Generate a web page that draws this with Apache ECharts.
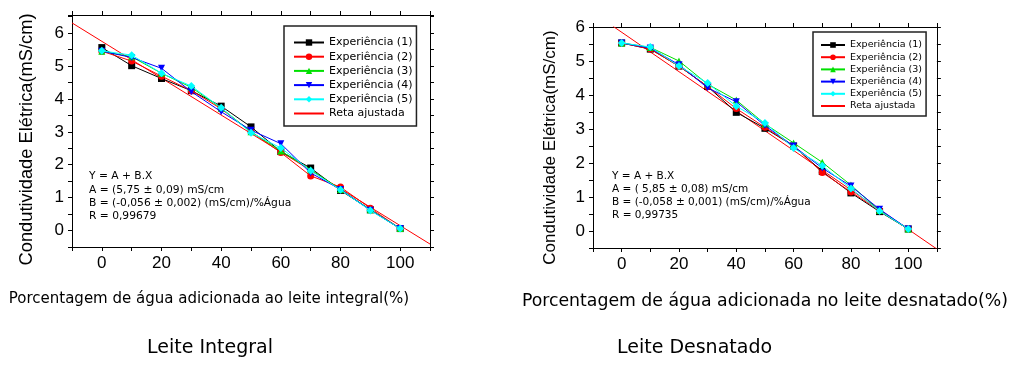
<!DOCTYPE html>
<html>
<head>
<meta charset="utf-8">
<script src="https://cdn.jsdelivr.net/npm/echarts@6/dist/echarts.min.js"></script>
<style>
  html, body { margin: 0; padding: 0; background: #fff; }
  #chart { width: 1011px; height: 372px; }
</style>
</head>
<body>
<div id="chart"></div>
<script>
// ---- data ----
const xPct = [0, 10, 20, 30, 40, 50, 60, 70, 80, 90, 100];
const expNames = ["Experiência (1)", "Experiência (2)", "Experiência (3)", "Experiência (4)", "Experiência (5)"];
const fitName = "Reta ajustada";

// Leite integral
const integral1 = [5.56, 5.01, 4.62, 4.25, 3.78, 3.15, 2.40, 1.90, 1.22, 0.63, 0.06];
const integral2 = [5.45, 5.15, 4.69, 4.25, 3.70, 3.00, 2.37, 1.66, 1.32, 0.68, 0.06];
const integral3 = [5.45, 5.28, 4.78, 4.35, 3.72, 3.00, 2.42, 1.85, 1.25, 0.63, 0.06];
const integral4 = [5.45, 5.26, 4.93, 4.22, 3.61, 3.05, 2.64, 1.75, 1.25, 0.62, 0.06];
const integral5 = [5.46, 5.33, 4.78, 4.39, 3.73, 2.97, 2.51, 1.82, 1.24, 0.61, 0.06];
const integralFit = [[-10, 6.31], [110, -0.41]];

// Leite desnatado
const desnat1 = [5.53, 5.35, 4.85, 4.25, 3.49, 3.02, 2.50, 1.75, 1.12, 0.57, 0.06];
const desnat2 = [5.53, 5.35, 4.85, 4.25, 3.60, 3.05, 2.50, 1.72, 1.15, 0.60, 0.06];
const desnat3 = [5.53, 5.40, 5.00, 4.32, 3.85, 3.15, 2.59, 2.02, 1.35, 0.60, 0.06];
const desnat4 = [5.53, 5.38, 4.89, 4.21, 3.80, 3.10, 2.50, 1.85, 1.32, 0.64, 0.06];
const desnat5 = [5.53, 5.41, 4.85, 4.35, 3.67, 3.18, 2.44, 1.92, 1.25, 0.59, 0.06];
const desnatFit = [[-3, 6.02], [110, -0.53]];

const xTickLabels = [0, 20, 40, 60, 80, 100];
const yTickLabels = [0, 1, 2, 3, 4, 5, 6];

const notesIntegral = ["Y = A + B.X", "A = (5,75 ± 0,09) mS/cm", "B = (-0,056 ± 0,002) (mS/cm)/%Água", "R = 0,99679"];
const notesDesnat = ["Y = A + B.X", "A = ( 5,85 ± 0,08) mS/cm", "B = (-0,058 ± 0,001) (mS/cm)/%Água", "R = 0,99735"];

const colors = ["#000000", "#ff0000", "#00e000", "#0000ff", "#00ffff"];
const symbols = ["rect", "circle", "triangle", "triangle", "diamond"];
const rotations = [0, 0, 0, 180, 0];

const chart = echarts.init(document.getElementById("chart"));

const AX = "#000";
const tickFont = { color: "#000", fontSize: 17, fontFamily: "Liberation Sans" };

function xAxisPair(grid, nameText, nameSize, namePad, gap) {
  const base = {
    gridIndex: grid, type: "value", min: -10, max: 110, interval: 10,
    axisLine: { show: true, onZero: false, lineStyle: { color: AX, width: 1 } },
    axisTick: { show: true, inside: false, length: 4, lineStyle: { color: AX } },
    splitLine: { show: false }
  };
  return [
    Object.assign({}, base, {
      position: "bottom",
      axisLabel: Object.assign({}, tickFont, { margin: 8, formatter: v => xTickLabels.includes(v) ? String(v) : "" }),
      name: nameText, nameLocation: "middle", nameGap: gap,
      nameTextStyle: { color: "#000", fontSize: nameSize, fontFamily: "DejaVu Sans", padding: namePad }
    }),
    Object.assign({}, base, { position: "top", axisLabel: { show: false } })
  ];
}

function yAxisPair(grid, max, gap, size, pad) {
  const base = {
    gridIndex: grid, type: "value", min: -0.5, max: max, interval: 0.5,
    axisLine: { show: true, onZero: false, lineStyle: { color: AX, width: 1 } },
    axisTick: { show: true, inside: false, length: 4, lineStyle: { color: AX } },
    splitLine: { show: false }
  };
  return [
    Object.assign({}, base, {
      position: "left",
      axisLabel: Object.assign({}, tickFont, { margin: 8, formatter: v => yTickLabels.includes(v) ? String(v) : "" }),
      name: "Condutividade Elétrica(mS/cm)", nameLocation: "middle", nameGap: gap, nameRotate: 90,
      nameMoveOverlap: false,
      nameTextStyle: { color: "#000", fontSize: size, fontFamily: "Liberation Sans", padding: pad }
    }),
    Object.assign({}, base, { position: "right", axisLabel: { show: false } })
  ];
}

function expSeries(grid, sets, size) {
  return sets.map((vals, i) => ({
    name: expNames[i], type: "line",
    xAxisIndex: grid * 2, yAxisIndex: grid * 2,
    data: xPct.map((x, k) => [x, vals[k]]),
    symbol: symbols[i], symbolRotate: rotations[i], symbolSize: i === 4 ? size + 1 : size,
    itemStyle: { color: colors[i] },
    lineStyle: { color: colors[i], width: 1 },
    z: 3 + i
  }));
}

// fitted line: no markers, legend shows just the red stroke
function fitSeries(grid, pts) {
  return {
    name: fitName, type: "line",
    xAxisIndex: grid * 2, yAxisIndex: grid * 2,
    data: pts, symbol: "circle", showSymbol: false, clip: true,
    itemStyle: { color: "rgba(0,0,0,0)", borderWidth: 0 },
    lineStyle: { color: "#ff0000", width: 1 },
    z: 2
  };
}

chart.setOption({
  animation: false,
  backgroundColor: "#fff",
  grid: [
    { left: 72, top: 15, width: 358, height: 232 },
    { left: 593, top: 27, width: 344, height: 221 }
  ],
  xAxis: xAxisPair(0, "Porcentagem de água adicionada ao leite integral(%)", 15, [0, 84, 0, 0], 45)
    .concat(xAxisPair(1, "Porcentagem de água adicionada no leite desnatado(%)", 17.3, [0, 0, 0, 0], 45)),
  yAxis: yAxisPair(0, 6.55, 36, 18.3, [0, 17, 0, 0]).concat(yAxisPair(1, 6, 34, 17, [0, 20, 0, 0])),
  legend: [
    {
      left: 284, top: 26, orient: "vertical",
      data: expNames.concat([fitName]),
      itemWidth: 30, itemHeight: 8, itemGap: 3.2,
      padding: [11, 4, 7, 9],
      borderColor: "#222", borderWidth: 1.5,
      textStyle: { color: "#000", fontSize: 11, fontFamily: "DejaVu Sans", lineHeight: 10.8 },
      selectedMode: false
    },
    {
      left: 813, top: 32, orient: "vertical",
      data: expNames.concat([fitName]),
      itemWidth: 24, itemHeight: 7, itemGap: 2.2,
      padding: [8, 4, 5, 7],
      borderColor: "#222", borderWidth: 1.5,
      textStyle: { color: "#000", fontSize: 9.5, fontFamily: "DejaVu Sans", lineHeight: 10 },
      selectedMode: false
    }
  ],
  series: [fitSeries(0, integralFit)]
    .concat(expSeries(0, [integral1, integral2, integral3, integral4, integral5], 7))
    .concat([fitSeries(1, desnatFit)])
    .concat(expSeries(1, [desnat1, desnat2, desnat3, desnat4, desnat5], 7)),
  graphic: [
    {
      type: "text", left: 89, top: 170,
      style: { text: notesIntegral.join("\n"), font: "10.7px DejaVu Sans", fill: "#000", lineHeight: 13.3 }
    },
    {
      type: "text", left: 612, top: 170,
      style: { text: notesDesnat.join("\n"), font: "10.5px DejaVu Sans", fill: "#000", lineHeight: 13 }
    },
    {
      type: "text", left: 147, top: 339,
      style: { text: "Leite Integral", font: "19px DejaVu Sans", fill: "#000" }
    },
    {
      type: "text", left: 617, top: 339,
      style: { text: "Leite Desnatado", font: "19px DejaVu Sans", fill: "#000" }
    }
  ]
});
</script>
</body>
</html>
